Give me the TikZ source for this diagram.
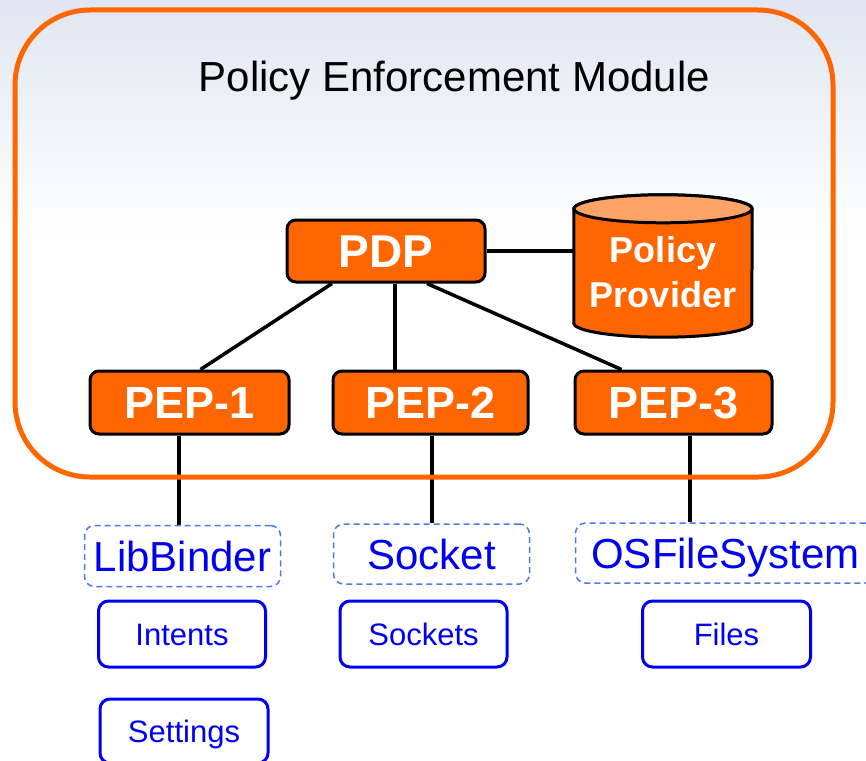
\documentclass[tikz,border=0pt]{standalone}
\usepackage{fontspec}
\setmainfont{Liberation Sans}
\usetikzlibrary{calc}
\pgfdeclarelayer{back}
\pgfdeclarelayer{wires}
\pgfsetlayers{back,wires,main}
\definecolor{pemorange}{HTML}{FF6600}
\definecolor{pemlight}{HTML}{FFA366}
\definecolor{pemblue}{HTML}{0000F0}
\definecolor{pemdash}{HTML}{4A7BEA}
\definecolor{pembg}{HTML}{E0E6F0}
\tikzset{
  fs/.style={font=\fontsize{#1pt}{#1pt}\selectfont},
  fsb/.style={font=\fontsize{#1pt}{#1pt}\selectfont\bfseries},
  obox/.style={draw=black, line width=3pt, fill=pemorange, rounded corners=9pt,
    text=white, inner sep=0pt, text depth=0pt},
  dbox/.style={draw=pemdash, line width=1.5pt, dash pattern=on 6pt off 4pt,
    rounded corners=10pt, text=pemblue, inner sep=0pt, text depth=0pt},
  sbox/.style={draw=pemblue, line width=3pt, rounded corners=10pt,
    text=pemblue, inner sep=0pt, text depth=0pt},
  wire/.style={draw=black, line width=3.5pt},
}
\begin{document}
\begin{tikzpicture}[x=1pt, y=-1pt]
\useasboundingbox (0,0) rectangle (866,760);
\begin{pgfonlayer}{back}
  \fill[white] (0,0) rectangle (866,760);
  \fill[top color=pembg, bottom color=white] (0,0) rectangle (866,240);
\end{pgfonlayer}

% outer module
\node[draw=pemorange, line width=5pt, rounded corners=75pt, minimum width=818pt,
  minimum height=467pt, inner sep=0pt] (pem) at (424,243.5) {};
\node[fs=42, inner sep=0pt, text height=30.2pt, text depth=0pt] (title) at (454.5,76.5)
  {Policy Enforcement Module};

% PDP
\node[obox, fsb=46, text height=33.1pt, minimum width=198pt, minimum height=62pt] (pdp)
  at (386,251) {PDP};

% Policy provider cylinder
\node[inner sep=0pt, minimum width=178pt, minimum height=114pt] (pp) at (663,266) {};
\draw[line width=3pt, fill=pemorange] (pp.north west) -- (pp.south west)
  arc[start angle=180, end angle=360, x radius=89pt, y radius=14pt]
  -- (pp.north east)
  arc[start angle=0, end angle=180, x radius=89pt, y radius=14pt] -- cycle;
\draw[line width=3pt, fill=pemlight] (pp.north) ellipse [x radius=89pt, y radius=14pt];
\node[fsb=36, text=white, inner sep=0pt, anchor=base] (ppa) at (663,262) {Policy};
\node[fsb=36, text=white, inner sep=0pt, anchor=base] (ppb) at (663,307) {Provider};

% PEPs
\node[obox, fsb=45, text height=32.4pt, minimum width=199pt, minimum height=63pt] (pep1)
  at (189.5,402.5) {PEP-1};
\node[obox, fsb=45, text height=32.4pt, minimum width=195pt, minimum height=63pt] (pep2)
  at (430.5,402.5) {PEP-2};
\node[obox, fsb=45, text height=32.4pt, minimum width=197pt, minimum height=63pt] (pep3)
  at (673.5,402.5) {PEP-3};

% dashed component boxes
\node[dbox, fs=42, text height=30.2pt, minimum width=196pt, minimum height=61pt] (lib)
  at (182.5,556) {LibBinder};
\node[dbox, fs=42, text height=30.2pt, minimum width=196pt, minimum height=60pt] (sock)
  at (431.5,554) {Socket};
\node[dbox, fs=42, text height=30.2pt, minimum width=300pt, minimum height=60pt] (osfs)
  at (725.5,553) {OSFileSystem};

% solid resource boxes
\node[sbox, fs=31, text height=22.3pt, minimum width=167pt, minimum height=66pt] (intents)
  at (182,634) {Intents};
\node[sbox, fs=31, text height=22.3pt, minimum width=167pt, minimum height=66pt] (sockets)
  at (423.5,634) {Sockets};
\node[sbox, fs=31, text height=22.3pt, minimum width=168pt, minimum height=66pt] (files)
  at (726.5,634) {Files};
\node[sbox, fs=31, text height=22.3pt, minimum width=168pt, minimum height=64pt] (settings)
  at (184,731) {Settings};

% connectors
\coordinate (d1) at ($(pdp.south)+(-54,0)$);
\coordinate (d2) at ($(pdp.south)+(9,0)$);
\coordinate (d3) at ($(pdp.south)+(41,0)$);
\coordinate (u1) at ($(pep1.north)+(11,0)$);
\coordinate (u3) at ($(pep3.north)+(-52,0)$);
\coordinate (b1) at ($(pep1.south)+(-10.5,0)$);
\coordinate (b2) at ($(pep2.south)+(1.5,0)$);
\coordinate (b3) at ($(pep3.south)+(16.5,0)$);
\begin{pgfonlayer}{wires}
  \draw[wire] (pdp.east) -- (pdp.east -| pp.west);
  \draw[wire] (d1) -- (u1);
  \draw[wire] (d2) -- (d2 |- pep2.north);
  \draw[wire] (d3) -- (u3);
  \draw[wire] (b1) -- (b1 |- lib.north);
  \draw[wire] (b2) -- (b2 |- sock.north);
  \draw[wire] (b3) -- (b3 |- osfs.north);
\end{pgfonlayer}
\end{tikzpicture}
\end{document}
